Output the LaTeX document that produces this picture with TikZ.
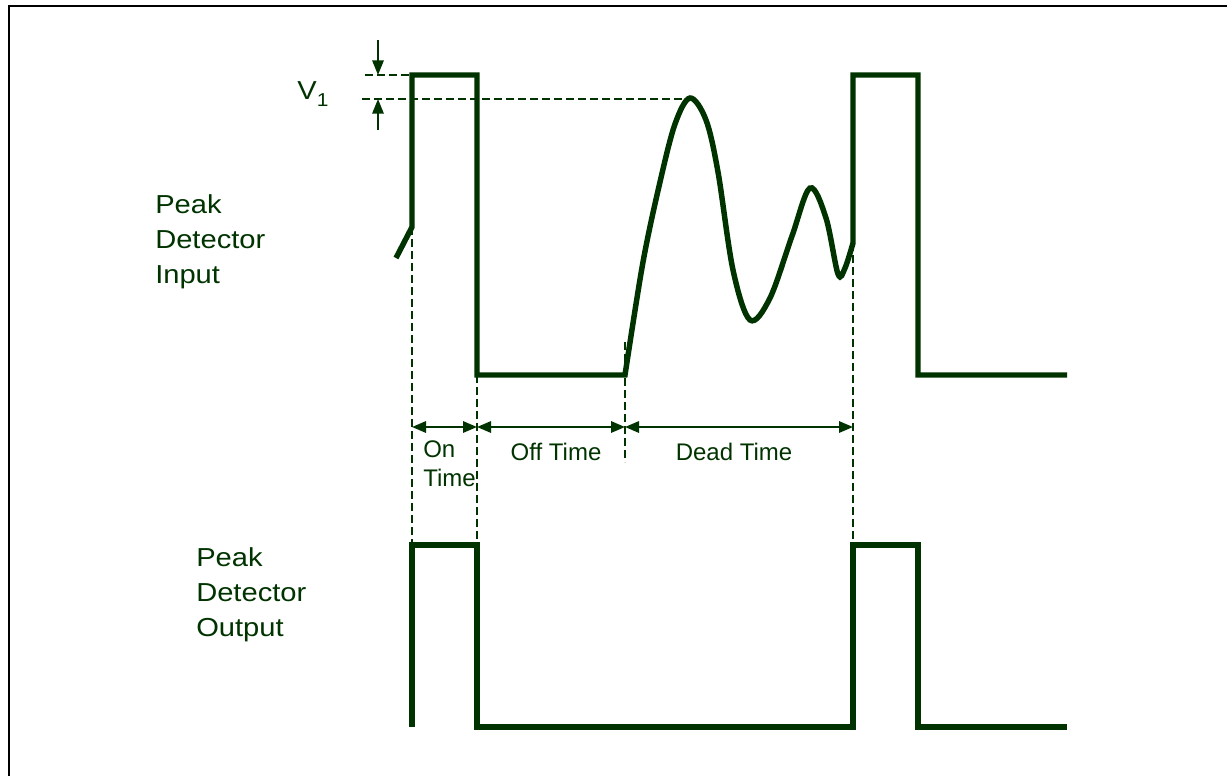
\documentclass[tikz,border=0pt]{standalone}
\usepackage{fontspec}
\setmainfont{Liberation Sans}
\newfontfamily\widefont{Liberation Sans}[FakeStretch=1.12]
\usetikzlibrary{arrows.meta}
\definecolor{pdgreen}{RGB}{0,51,0}

\begin{document}
\begin{tikzpicture}[x=0.75pt, y=-0.75pt,
  wave/.style={pdgreen, line width=4.1pt, line join=miter},
  guide/.style={pdgreen, line width=1.3pt, dash pattern=on 6pt off 3pt},
  span/.style={pdgreen, line width=1.6pt, {Triangle[length=10.5pt,width=8.5pt]}-{Triangle[length=10.5pt,width=8.5pt]}},
  tick/.style={pdgreen, line width=1.6pt, -{Triangle[length=11pt,width=8.5pt]}},
  biglabel/.style={text=pdgreen, align=left, inner sep=0pt, anchor=west,
                   font=\widefont\fontsize{19.5}{26.25}\selectfont},
  smalllabel/.style={text=pdgreen, inner sep=0pt,
                     font=\fontsize{18}{21.75}\selectfont}
]
  \useasboundingbox (0,0) rectangle (1227,776);

  % frame
  \draw[black, line width=2.2pt] (9,776) -- (9,6) -- (1227,6);

  % edges of the pulses
  \coordinate (riseA)  at (412,227);
  \coordinate (fallA)  at (477,375);
  \coordinate (ring0)  at (625,375);
  \coordinate (peak)   at (690,99);
  \coordinate (riseB)  at (853,243);
  \coordinate (outA)   at (412,545);
  \coordinate (outB)   at (477,545);
  \coordinate (outC)   at (853,545);

  % input
  \draw[wave] (396,258) -- (riseA) -- (412,75) -- (477,75) -- (fallA) -- (ring0)
    -- plot[smooth, tension=0.55] coordinates {(625,375) (643,262) (660,182) (675,124)
       (690,98) (706,120) (718,172) (733,270) (750,320) (770,298) (792,236) (810,188)
       (826,218) (838,274) (845,268) (853,243)}
    -- (853,75) -- (918,75) -- (918,375) -- (1067,375);

  % output
  \draw[wave] (412,727) -- (outA) -- (outB) -- (477,727) -- (853,727) -- (outC)
    -- (918,545) -- (918,727) -- (1067,727);

  % guides
  \draw[guide] (365,75) -- (412,75);
  \draw[guide] (362,99) -- (peak);
  \draw[guide] (riseA) -- (outA);
  \draw[guide] (fallA) -- (outB);
  \draw[guide] (625,342) -- (625,462);
  \draw[guide] (riseB) -- (outC);

  % V1
  \draw[tick] (378,40) -- (378,75);
  \draw[tick] (378,130) -- (378,99);
  \node[text=pdgreen, inner sep=0pt, font=\widefont\fontsize{19.5}{24}\selectfont]
    (v1) at (313,94) {V\raisebox{-0.45ex}{\fontsize{14}{14}\selectfont 1}};

  % time spans
  \coordinate (s0) at (412,427);
  \coordinate (s1) at (477,427);
  \coordinate (s2) at (625,427);
  \coordinate (s3) at (853,427);
  \draw[span] (s0) -- (s1);
  \draw[span] (s1) -- (s2);
  \draw[span] (s2) -- (s3);
  \node[smalllabel, align=left, anchor=west] (ontime) at (423,464) {On\\Time};
  \node[smalllabel] (offtime) at (556,452) {Off Time};
  \node[smalllabel] (deadtime) at (734,452) {Dead Time};

  % labels
  \node[biglabel] (inlabel) at (155,242) {Peak\\Detector\\Input};
  \node[biglabel] (outlabel) at (196,595) {Peak\\Detector\\Output};
\end{tikzpicture}
\end{document}
